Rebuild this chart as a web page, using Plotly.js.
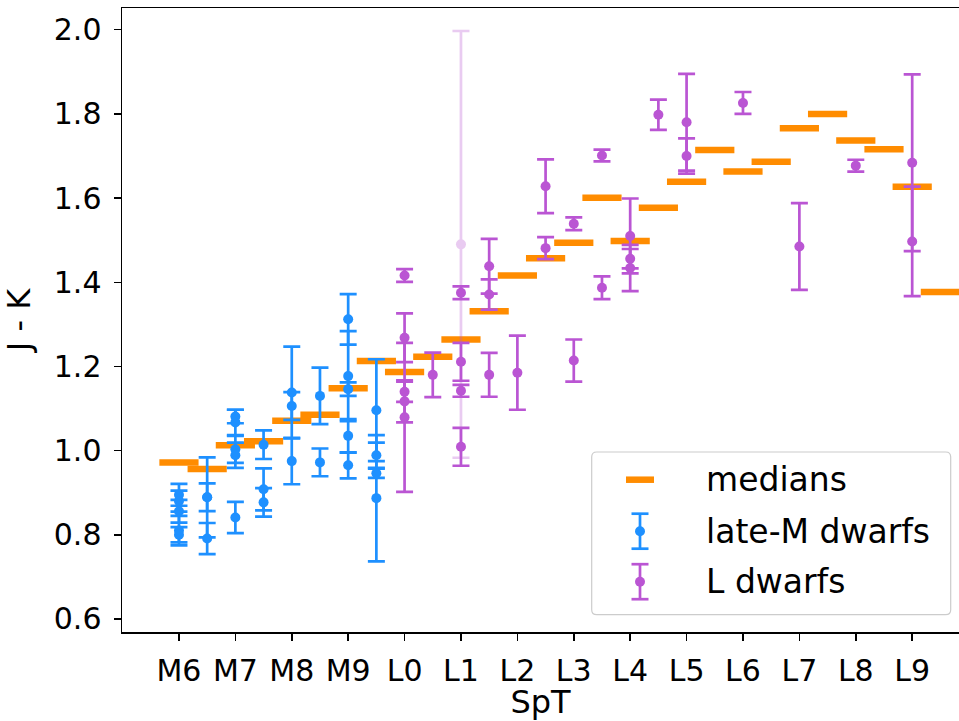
<!DOCTYPE html>
<html>
<head>
<meta charset="utf-8">
<script src="https://cdn.plot.ly/plotly-3.0.1.min.js"></script>
<style>html,body{margin:0;padding:0;background:#fff;}#chart{width:959px;height:721px;}</style>
</head>
<body>
<div id="chart"></div>
<script>
// ---- tick labels ----
const spTTicks = [6, 7, 8, 9, 10, 11, 12, 13, 14, 15, 16, 17, 18, 19];
const spTLabels = ['M6','M7','M8','M9','L0','L1','L2','L3','L4','L5','L6','L7','L8','L9'];
const yTicks = [0.6, 0.8, 1.0, 1.2, 1.4, 1.6, 1.8, 2.0];

// ---- medians ----
const medianSpT = [6, 6.5, 7, 7.5, 8, 8.5, 9, 9.5, 10, 10.5, 11, 11.5, 12, 12.5, 13, 13.5, 14, 14.5, 15, 15.5, 16, 16.5, 17, 17.5, 18, 18.5, 19, 19.5];
const medianJK = [0.972, 0.956, 1.013, 1.022, 1.071, 1.085, 1.148, 1.213, 1.187, 1.223, 1.264, 1.331, 1.416, 1.457, 1.494, 1.601, 1.498, 1.577, 1.639, 1.714, 1.663, 1.686, 1.766, 1.800, 1.737, 1.716, 1.627, 1.377];

// ---- late-M dwarfs ----
const mSpT = [6, 6, 6, 6, 6, 6.5, 6.5, 6.5, 7, 7, 7, 7, 7, 7.5, 7.5, 7.5, 8, 8, 8, 8.5, 8.5, 9, 9, 9, 9, 9, 9.5, 9.5, 9.5, 9.5];
const mJK  = [0.895, 0.880, 0.856, 0.810, 0.800, 0.889, 0.889, 0.791, 1.081, 1.067, 1.003, 0.989, 0.841, 1.014, 0.908, 0.877, 1.138, 1.106, 0.975, 1.130, 0.972, 1.312, 1.177, 1.146, 1.035, 0.965, 1.096, 0.989, 0.946, 0.887];
const mErr = [0.026, 0.025, 0.027, 0.035, 0.018, 0.095, 0.033, 0.037, 0.016, 0.030, 0.032, 0.030, 0.037, 0.034, 0.050, 0.034, 0.109, 0.033, 0.055, 0.067, 0.033, 0.060, 0.107, 0.016, 0.040, 0.031, 0.121, 0.030, 0.011, 0.150];

// ---- L dwarfs ----
const lSpT = [10, 10, 10, 10, 10, 10.5, 11, 11, 11, 11, 11.5, 11.5, 11.5, 12, 12.5, 12.5, 13, 13, 13.5, 13.5, 14, 14, 14, 14.5, 15, 15, 16, 17, 18, 19, 19];
const lJK  = [1.416, 1.268, 1.140, 1.117, 1.079, 1.180, 1.375, 1.211, 1.142, 1.009, 1.438, 1.371, 1.180, 1.185, 1.628, 1.481, 1.539, 1.214, 1.701, 1.387, 1.510, 1.456, 1.434, 1.798, 1.780, 1.700, 1.826, 1.485, 1.677, 1.684, 1.497];
const lErr = [0.015, 0.058, 0.024, 0.050, 0.177, 0.053, 0.015, 0.045, 0.014, 0.045, 0.065, 0.036, 0.052, 0.088, 0.064, 0.026, 0.015, 0.050, 0.014, 0.027, 0.089, 0.023, 0.055, 0.036, 0.115, 0.042, 0.026, 0.103, 0.014, 0.210, 0.130];

// ---- uncertain L dwarf (drawn faded) ----
const fadedSpT = [11];
const fadedJK = [1.49];
const fadedErr = [0.507];

// ---- colours ----
const cMed = '#ff8c00', cM = '#1e90ff', cL = '#ba55d3';

const errStyle = (arr, col) => ({type: 'data', array: arr, visible: true, color: col, thickness: 2.7, width: 8.5});

const traces = [
  {x: medianSpT, y: medianJK, mode: 'markers', name: 'medians', showlegend: false,
   marker: {symbol: 'line-ew', size: 28, color: cMed, line: {color: cMed, width: 6.5}}},
  {x: fadedSpT, y: fadedJK, mode: 'markers', name: 'L dwarfs (uncertain)', showlegend: false, opacity: 0.3,
   marker: {symbol: 'circle', size: 10, color: cL}, error_y: errStyle(fadedErr, cL)},
  {x: mSpT, y: mJK, mode: 'markers', name: 'late-M dwarfs', showlegend: false,
   marker: {symbol: 'circle', size: 10, color: cM}, error_y: errStyle(mErr, cM)},
  {x: lSpT, y: lJK, mode: 'markers', name: 'L dwarfs', showlegend: false,
   marker: {symbol: 'circle', size: 10, color: cL}, error_y: errStyle(lErr, cL)}
];

// ---- pixel -> paper helpers for the hand-drawn legend ----
const PL = 122, PR = 959, PT = 8.3, PB = 632.3;
const fx = p => (p - PL) / (PR - PL);
const fy = p => (PB - p) / (PB - PT);

function roundRect(x0, y0, x1, y1, r) {
  const P = (x, y) => fx(x) + ',' + fy(y);
  return 'M' + P(x0 + r, y0) + ' L' + P(x1 - r, y0) + ' Q' + P(x1, y0) + ' ' + P(x1, y0 + r) +
    ' L' + P(x1, y1 - r) + ' Q' + P(x1, y1) + ' ' + P(x1 - r, y1) +
    ' L' + P(x0 + r, y1) + ' Q' + P(x0, y1) + ' ' + P(x0, y1 - r) +
    ' L' + P(x0, y0 + r) + ' Q' + P(x0, y0) + ' ' + P(x0 + r, y0) + ' Z';
}

function errHandle(cx, cy, col) {
  const s = [];
  const ln = (x0, y0, x1, y1) => ({type: 'line', xref: 'paper', yref: 'paper', layer: 'above',
    x0: fx(x0), y0: fy(y0), x1: fx(x1), y1: fy(y1), line: {color: col, width: 2.7}});
  s.push(ln(cx, cy - 17.5, cx, cy + 17.5));
  s.push(ln(cx - 8.5, cy - 17.5, cx + 8.5, cy - 17.5));
  s.push(ln(cx - 8.5, cy + 17.5, cx + 8.5, cy + 17.5));
  s.push({type: 'circle', xref: 'paper', yref: 'paper', layer: 'above',
    x0: fx(cx - 5), x1: fx(cx + 5), y0: fy(cy + 5), y1: fy(cy - 5),
    fillcolor: col, line: {color: col, width: 0}});
  return s;
}

const shapes = [
  {type: 'path', xref: 'paper', yref: 'paper', layer: 'above', path: roundRect(591.7, 452.3, 950.7, 615, 5),
   fillcolor: 'rgba(255,255,255,0.8)', line: {color: '#cccccc', width: 1.2}},
  {type: 'line', xref: 'paper', yref: 'paper', layer: 'above', x0: fx(626), x1: fx(654), y0: fy(480), y1: fy(480),
   line: {color: cMed, width: 6.5}}
].concat(errHandle(640, 531.5, cM)).concat(errHandle(640, 582, cL));

const legFont = {family: 'DejaVu Sans', size: 33, color: '#000'};
const annotations = [
  {text: 'medians', y: 480},
  {text: 'late-M dwarfs', y: 531.5},
  {text: 'L dwarfs', y: 582}
].map(a => ({text: a.text, xref: 'paper', yref: 'paper', x: fx(704), y: fy(a.y), xanchor: 'left', yanchor: 'middle',
  showarrow: false, font: legFont}));

const axisLine = {showline: true, linecolor: '#000', linewidth: 1.5, ticks: 'outside', ticklen: 7, tickwidth: 1.5,
  tickcolor: '#000', showgrid: false, zeroline: false, automargin: false,
  tickfont: {family: 'DejaVu Sans', size: 30, color: '#000'}};

const layout = {
  width: 959, height: 721,
  margin: {l: 122, r: 0, t: 8.3, b: 88.7},
  paper_bgcolor: '#fff', plot_bgcolor: '#fff',
  showlegend: false,
  font: {family: 'DejaVu Sans', color: '#000'},
  xaxis: Object.assign({}, axisLine, {range: [4.99, 19.83], tickmode: 'array', tickvals: spTTicks, ticktext: spTLabels,
    mirror: true, ticklabelstandoff: 4,
    title: {text: 'SpT', font: {family: 'DejaVu Sans', size: 32, color: '#000'}, standoff: 6}}),
  yaxis: Object.assign({}, axisLine, {range: [0.569, 2.0516], tickmode: 'array', tickvals: yTicks, tickformat: '.1f',
    ticklabelstandoff: 6,
    title: {text: 'J - K', font: {family: 'DejaVu Sans', size: 32, color: '#000'}, standoff: 14}}),
  shapes: shapes,
  annotations: annotations
};

Plotly.newPlot('chart', traces, layout, {displayModeBar: false, staticPlot: true});
</script>
</body>
</html>
